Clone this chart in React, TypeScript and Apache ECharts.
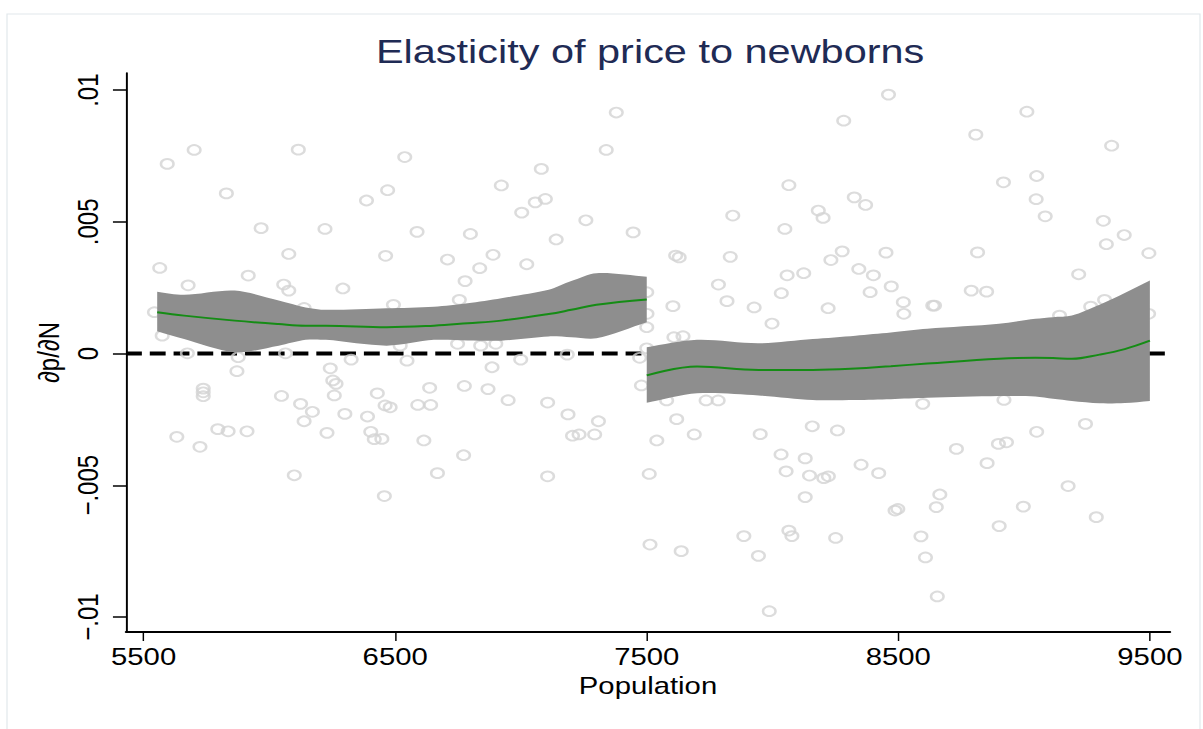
import React, { useEffect, useRef } from "react";
import * as echarts from "echarts";

// horizontal stretch of the reference picture (circles and text are wider than tall)
const STRETCH = 1.22;
const W = 986;
const H = 729;
const FONT = "'Liberation Sans', Arial, Helvetica, sans-serif";

const titleText = "Elasticity of price to newborns";
const xName = "Population";
const yName = "∂p/∂N";
const xTicks = [5500, 6500, 7500, 8500, 9500];
const yTicks = [-0.01, -0.005, 0, 0.005, 0.01];
const yTickLabels = ["−.01", "−.005", "0", ".005", ".01"];
const xMin = 5430;
const xMax = 9580;
const yMin = -0.01057;
const yMax = 0.01065;

// scatter points: [population, ∂p/∂N in thousandths]
const scatterPoints: [number, number][] = [
  [5594, 7.2], [5701, 7.73], [6115, 7.74], [5829, 6.08], [6538, 7.46], [7379, 9.15], [7339, 7.73],
  [7081, 7.01], [6922, 6.38], [6470, 6.2], [6386, 5.81], [7057, 5.74], [7097, 5.87], [7003, 5.35],
  [5967, 4.76], [6221, 4.73], [6587, 4.62], [6799, 4.54], [7258, 5.06], [7446, 4.6], [7140, 4.33],
  [6077, 3.78], [6462, 3.71], [6708, 3.57], [6889, 3.75], [6836, 3.24], [7023, 3.39], [5564, 3.25],
  [5677, 2.59], [5916, 2.96], [6057, 2.62], [6077, 2.39], [6292, 2.47], [6778, 2.75], [7500, 2.33],
  [5543, 1.57], [5574, 0.68], [6755, 2.04], [6493, 1.85], [6138, 1.73], [7500, 1.0], [6748, 0.37],
  [6840, 0.3], [6900, 0.37], [5674, 0.01], [6520, 0.3], [7500, 0.2], [7501, 1.51],
  [5876, -0.14], [5871, -0.67], [6064, 0.01], [6325, -0.23], [6547, -0.27], [6885, -0.52],
  [6999, -0.23], [7184, -0.04], [7472, -0.16], [7479, -1.21], [6242, -0.56], [6252, -1.02],
  [6265, -1.15], [6258, -1.59], [5737, -1.33], [5737, -1.47], [5737, -1.62], [6048, -1.61],
  [6124, -1.91], [6171, -2.21], [6138, -2.57], [6300, -2.29], [6429, -1.51], [6390, -2.39],
  [6460, -1.97], [6480, -2.04], [6637, -1.3], [6590, -1.95], [6641, -1.95], [6775, -1.23],
  [6869, -1.35], [6949, -1.77], [7106, -1.86], [7187, -2.31], [7308, -2.57], [7205, -3.12],
  [7231, -3.07], [7293, -3.07], [5632, -3.16], [5724, -3.54], [5795, -2.87], [5836, -2.95],
  [5911, -2.95], [6229, -3.01], [6403, -2.97], [6417, -3.25], [6447, -3.24], [6614, -3.3],
  [6772, -3.86], [6099, -4.62], [6668, -4.54], [7106, -4.66], [6457, -5.41], [7510, -4.57],
  [7513, -7.25], [7540, -3.3],
  [8461, 9.83], [8283, 8.84], [9011, 9.18], [8808, 8.31], [9348, 7.89], [8065, 6.39], [8918, 6.5],
  [9050, 6.74], [9048, 5.86], [9084, 5.21], [7842, 5.24], [8049, 4.73], [8182, 5.43], [8201, 5.15],
  [8325, 5.93], [8370, 5.64], [9315, 5.04], [9398, 4.5], [9327, 4.15], [9496, 3.81], [7615, 3.72],
  [7629, 3.65], [7832, 3.67], [8277, 3.88], [8232, 3.55], [8451, 3.83], [8815, 3.84], [7785, 2.62],
  [7819, 1.99], [8058, 2.97], [8124, 3.05], [8035, 2.29], [8343, 3.21], [8401, 2.97], [8472, 2.55],
  [8388, 2.33], [8520, 1.95], [8522, 1.51], [8637, 1.82], [8644, 1.82], [8790, 2.39], [8851, 2.35],
  [9217, 3.01], [9320, 2.04], [9265, 1.78], [9141, 1.44], [7604, 1.8], [7927, 1.75], [7998, 1.14],
  [8221, 1.72], [7608, 0.62], [7644, 0.66], [9495, 1.51],
  [7579, -1.78], [7736, -1.78], [7784, -1.78], [7619, -2.49], [7689, -3.07], [8597, -1.91],
  [8920, -1.76], [7951, -3.06], [8158, -2.76], [8258, -2.92], [8034, -3.83], [8130, -3.98],
  [8054, -4.47], [8147, -4.63], [8204, -4.73], [8222, -4.66], [8352, -4.22], [8422, -4.54],
  [8130, -5.45], [8731, -3.62], [8853, -4.16], [8898, -3.43], [8930, -3.37], [9050, -2.97],
  [9244, -2.67], [9175, -5.03], [8997, -5.81], [9287, -6.21], [8901, -6.55], [8665, -5.35],
  [8651, -5.83], [8487, -5.96], [8498, -5.9], [7637, -7.5], [7886, -6.93], [7944, -7.68],
  [8065, -6.72], [8077, -6.93], [8251, -7.0], [8590, -6.94], [8608, -7.74], [8655, -9.22],
  [7987, -9.78],
];

// local fit with confidence band, left of the threshold (thousandths)
const leftX = [5554, 5661, 5862, 6037, 6144, 6225, 6466, 6654, 6788, 6922, 7110, 7200, 7300, 7500];
const leftLower = [0.85, 0.55, 0.05, 0.3, 0.52, 0.52, 0.3, 0.52, 0.5, 0.49, 0.65, 0.62, 0.58, 1.19];
const leftFit = [1.57, 1.44, 1.25, 1.12, 1.06, 1.06, 1.0, 1.06, 1.15, 1.25, 1.5, 1.66, 1.85, 2.05];
const leftUpper = [2.35, 2.23, 2.39, 2.01, 1.75, 1.66, 1.72, 1.78, 1.91, 2.1, 2.42, 2.75, 3.05, 2.92];

// local fit with confidence band, right of the threshold (thousandths)
const rightX = [7500, 7700, 7945, 8160, 8330, 8470, 8615, 8900, 9045, 9115, 9190, 9300, 9400, 9500];
const rightLower = [-1.87, -1.51, -1.59, -1.76, -1.76, -1.73, -1.68, -1.61, -1.63, -1.72, -1.8, -1.89, -1.88, -1.8];
const rightFit = [-0.83, -0.49, -0.62, -0.62, -0.57, -0.48, -0.38, -0.2, -0.16, -0.17, -0.2, -0.04, 0.17, 0.49];
const rightUpper = [0.24, 0.52, 0.39, 0.55, 0.68, 0.8, 0.94, 1.13, 1.32, 1.38, 1.44, 1.85, 2.3, 2.77];

const zeroLineValue = 0;

const K = 0.001;
const BAND = "#8e8e8e";
const FIT = "#158c15";

// confidence band drawn as one closed polygon through the axis scales
function bandSeries(xs: number[], lo: number[], hi: number[]) {
  return {
    type: "custom",
    data: xs.map((x, i) => [x, lo[i] * K, hi[i] * K]),
    encode: { x: 0, y: [1, 2] },
    silent: true,
    z: 3,
    renderItem: (params: any, api: any) => {
      if (params.dataIndex !== 0) return null;
      const up = xs.map((x, i) => api.coord([x, hi[i] * K]));
      const dn = xs.map((x, i) => api.coord([x, lo[i] * K]));
      const n = xs.length;
      const pts: number[][] = [];
      // corners doubled so the smoothing keeps them sharp
      pts.push(up[0]);
      for (let i = 0; i < n; i++) pts.push(up[i]);
      pts.push(up[n - 1]);
      pts.push(dn[n - 1]);
      for (let i = n - 1; i >= 0; i--) pts.push(dn[i]);
      pts.push(dn[0]);
      return {
        type: "polygon",
        shape: { points: pts, smooth: 0.3 },
        style: { fill: BAND, stroke: null },
      };
    },
  };
}

function fitSeries(xs: number[], ys: number[]) {
  return {
    type: "line",
    data: xs.map((x, i) => [x, ys[i] * K]),
    symbol: "none",
    smooth: 0.4,
    lineStyle: { color: FIT, width: 2 },
    silent: true,
    z: 4,
  };
}

export default function App() {
  const ref = useRef<HTMLDivElement>(null);
  useEffect(() => {
    const chart = echarts.init(ref.current!, null, { renderer: "svg", width: W, height: H });
    const option: any = {
      animation: false,
      backgroundColor: "#ffffff",
      textStyle: { fontFamily: FONT },
      title: {
        text: titleText,
        left: 644 / STRETCH,
        top: 29,
        textAlign: "center",
        textStyle: { fontSize: 34, fontWeight: "normal", color: "#1f2b55", fontFamily: FONT },
      },
      graphic: [
        {
          type: "rect",
          shape: { x: 7 / STRETCH, y: 14, width: (1200 - 7) / STRETCH, height: H },
          style: { fill: "none", stroke: "#e2e8eb", lineWidth: 1 },
          silent: true,
          z: -10,
        },
      ],
      grid: {
        left: 126 / STRETCH,
        right: W - 1170 / STRETCH,
        top: 73,
        bottom: H - 632,
        containLabel: false,
        outerBoundsMode: "none",
      },
      xAxis: {
        type: "value",
        min: xMin,
        max: xMax,
        splitLine: { show: false },
        axisLine: { show: true, onZero: false, lineStyle: { color: "#000", width: 2 } },
        axisTick: { show: true, customValues: xTicks, length: 9, lineStyle: { color: "#000", width: 1.2 } },
        axisLabel: {
          customValues: xTicks,
          fontSize: 24,
          color: "#000",
          margin: 13,
          fontFamily: FONT,
          formatter: (v: number) => String(v),
        },
        name: xName,
        nameLocation: "middle",
        nameGap: 39,
        nameTextStyle: { fontSize: 24, color: "#000", fontFamily: FONT },
      },
      yAxis: {
        type: "value",
        min: yMin,
        max: yMax,
        splitLine: { show: false },
        axisLine: { show: true, onZero: false, lineStyle: { color: "#000", width: 1.6 } },
        axisTick: { show: true, customValues: yTicks, length: 10.7, lineStyle: { color: "#000", width: 1.5 } },
        axisLabel: {
          customValues: yTicks,
          rotate: 90,
          fontSize: 24,
          color: "#000",
          margin: 19,
          fontFamily: FONT,
          formatter: (v: number) => {
            const i = yTicks.findIndex((t) => Math.abs(t - v) < 1e-9);
            return i >= 0 ? yTickLabels[i] : "";
          },
        },
        name: yName,
        nameLocation: "middle",
        nameRotate: 90,
        nameGap: 50,
        nameTextStyle: { fontSize: 24, color: "#000", fontFamily: FONT },
      },
      series: [
        {
          type: "line",
          data: [
            [xMin, zeroLineValue],
            [xMax, zeroLineValue],
          ],
          symbol: "none",
          lineStyle: { color: "#000", width: 4, type: [13, 6.5] },
          silent: true,
          z: 1,
        },
        {
          type: "scatter",
          data: scatterPoints.map(([x, y]) => [x, y * K]),
          symbol: "circle",
          symbolSize: [10.3, 9.7],
          itemStyle: { color: "rgba(0,0,0,0)", borderColor: "#d3d3d3", borderWidth: 2 },
          silent: true,
          z: 2,
        },
        bandSeries(leftX, leftLower, leftUpper),
        bandSeries(rightX, rightLower, rightUpper),
        fitSeries(leftX, leftFit),
        fitSeries(rightX, rightFit),
      ],
    };
    chart.setOption(option);
    return () => chart.dispose();
  }, []);
  return (
    <div
      ref={ref}
      style={{
        position: "fixed",
        left: 0,
        top: 0,
        width: W,
        height: H,
        transform: `scaleX(${STRETCH})`,
        transformOrigin: "0 0",
        background: "#fff",
      }}
    />
  );
}
